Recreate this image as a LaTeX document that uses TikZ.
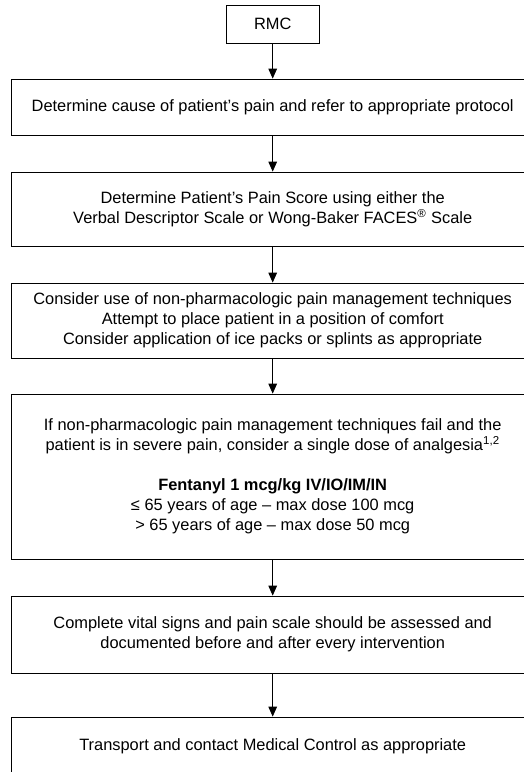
\documentclass[tikz,border=0pt]{standalone}
\usepackage{fontspec}
\setmainfont{Liberation Sans}
\usetikzlibrary{arrows.meta}

\begin{document}
\begin{tikzpicture}
[x=0.75pt,y=-0.75pt,
 box/.style={draw,line width=0.6pt,align=center,inner sep=0pt,minimum width=392.5pt,
   font=\fontsize{12.3}{15}\selectfont},
 arr/.style={-{Triangle[length=7.5pt,width=6.5pt]},line width=0.6pt}]
\useasboundingbox (0,0) rectangle (524,772);
\clip (0,0) rectangle (524,772);

\node[box,minimum width=69.75pt,minimum height=28.5pt] (rmc) at (272.7,24) {RMC};
\node[box,minimum height=42pt] (cause) at (272.7,107) {Determine cause of patient’s pain and refer to appropriate protocol};
\node[box,minimum height=55.5pt] (score) at (272.7,209) {Determine Patient’s Pain Score using either the\\ Verbal Descriptor Scale or Wong-Baker FACES\textsuperscript{®} Scale};
\node[box,minimum height=56.25pt] (nonpharm) at (272.7,320.5) {Consider use of non-pharmacologic pain management techniques\\ Attempt to place patient in a position of comfort\\ Consider application of ice packs or splints as appropriate};
\node[box,minimum height=123.75pt] (fentanyl) at (272.7,476.5) {If non-pharmacologic pain management techniques fail and the\\ patient is in severe pain, consider a single dose of analgesia\textsuperscript{1,2}\\[15pt]
\textbf{Fentanyl 1 mcg/kg IV/IO/IM/IN}\\ ≤ 65 years of age – max dose 100 mcg\\ > 65 years of age – max dose 50 mcg};
\node[box,minimum height=57.75pt] (vitals) at (272.7,634.5) {Complete vital signs and pain scale should be assessed and\\ documented before and after every intervention};
\node[box,minimum height=43.5pt] (transport) at (272.7,746) {Transport and contact Medical Control as appropriate};

\draw[arr] (rmc) -- (cause);
\draw[arr] (cause) -- (score);
\draw[arr] (score) -- (nonpharm);
\draw[arr] (nonpharm) -- (fentanyl);
\draw[arr] (fentanyl) -- (vitals);
\draw[arr] (vitals) -- (transport);
\end{tikzpicture}
\end{document}
